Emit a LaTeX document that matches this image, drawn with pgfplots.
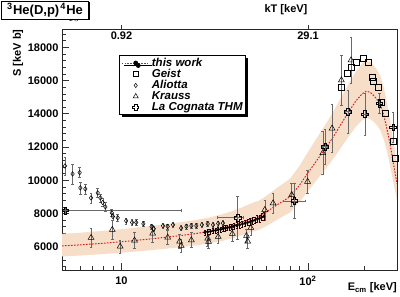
\documentclass[border=0pt]{standalone}
\usepackage{fontspec}
\setmainfont{Liberation Sans}
\usepackage{pgfplots}
\pgfplotsset{compat=1.18}
\usetikzlibrary{shadows}
\definecolor{bandc}{RGB}{247,222,200}
\definecolor{fitred}{RGB}{215,30,35}
\definecolor{ebar}{RGB}{105,105,105}
\pgfdeclareplotmark{ocross}{%
  \pgfpathmoveto{\pgfpoint{-0.38\pgfplotmarksize}{\pgfplotmarksize}}%
  \pgfpathlineto{\pgfpoint{0.38\pgfplotmarksize}{\pgfplotmarksize}}%
  \pgfpathlineto{\pgfpoint{0.38\pgfplotmarksize}{0.38\pgfplotmarksize}}%
  \pgfpathlineto{\pgfpoint{\pgfplotmarksize}{0.38\pgfplotmarksize}}%
  \pgfpathlineto{\pgfpoint{\pgfplotmarksize}{-0.38\pgfplotmarksize}}%
  \pgfpathlineto{\pgfpoint{0.38\pgfplotmarksize}{-0.38\pgfplotmarksize}}%
  \pgfpathlineto{\pgfpoint{0.38\pgfplotmarksize}{-\pgfplotmarksize}}%
  \pgfpathlineto{\pgfpoint{-0.38\pgfplotmarksize}{-\pgfplotmarksize}}%
  \pgfpathlineto{\pgfpoint{-0.38\pgfplotmarksize}{-0.38\pgfplotmarksize}}%
  \pgfpathlineto{\pgfpoint{-\pgfplotmarksize}{-0.38\pgfplotmarksize}}%
  \pgfpathlineto{\pgfpoint{-\pgfplotmarksize}{0.38\pgfplotmarksize}}%
  \pgfpathlineto{\pgfpoint{-0.38\pgfplotmarksize}{0.38\pgfplotmarksize}}%
  \pgfpathclose
  \pgfusepathqstroke}

\pgfplotstableread[row sep=\\]{
E S \\
4.8 6776 \\ 6 6843 \\ 8 6955 \\ 10 7056 \\ 13 7190 \\ 16 7314 \\ 20 7448 \\
25 7605 \\ 30 7773 \\ 35 7963 \\ 40 8176 \\ 45 8400 \\ 50 8624 \\ 55 8792 \\
60 9072 \\ 70 9632 \\ 80 10080 \\ 90 10864 \\ 100 11704 \\ 110 12432 \\
120 13104 \\ 130 13720 \\ 140 14336 \\ 150 14952 \\ 165 15792 \\ 180 16520 \\
195 17024 \\ 205 17192 \\ 215 17136 \\ 225 16912 \\ 235 16632 \\ 245 16240 \\
255 15568 \\ 265 14672 \\ 275 13664 \\ 285 12544 \\ 300 10976 \\
300 8771 \\ 285 10024 \\ 275 10919 \\ 265 11725 \\ 255 12441 \\ 245 12978 \\
235 13291 \\ 225 13515 \\ 215 13694 \\ 205 13738 \\ 195 13604 \\ 180 13201 \\
165 12620 \\ 150 11948 \\ 140 11456 \\ 130 10964 \\ 120 10472 \\ 110 9935 \\
100 9353 \\ 90 8682 \\ 80 8055 \\ 70 7697 \\ 60 7250 \\ 55 7026 \\ 50 6892 \\
45 6713 \\ 40 6534 \\ 35 6363 \\ 30 6211 \\ 25 6077 \\ 20 5952 \\ 16 5844 \\
13 5746 \\ 10 5639 \\ 8 5558 \\ 6 5468 \\ 4.8 5415 \\
}\band

\pgfplotstableread[row sep=\\]{
E S \\
4.8 6050 \\ 6 6110 \\ 8 6210 \\ 10 6300 \\ 13 6420 \\ 16 6530 \\ 20 6650 \\
25 6790 \\ 30 6940 \\ 35 7110 \\ 40 7300 \\ 45 7500 \\ 50 7700 \\ 55 7850 \\
60 8100 \\ 70 8600 \\ 80 9000 \\ 90 9700 \\ 100 10450 \\ 110 11100 \\
120 11700 \\ 130 12250 \\ 140 12800 \\ 150 13350 \\ 165 14100 \\ 180 14750 \\
195 15200 \\ 205 15350 \\ 215 15300 \\ 225 15100 \\ 235 14850 \\ 245 14500 \\
255 13900 \\ 265 13100 \\ 275 12200 \\ 285 11200 \\ 300 9800 \\
}\fit

\pgfplotstableread[row sep=\\]{
E S e \\
28.0 6860 150 \\ 29.0 6900 150 \\ 30.0 6920 150 \\ 31.0 6970 150 \\
32.0 6980 150 \\ 33.0 7030 150 \\ 34.0 7040 160 \\ 35.0 7090 160 \\
36.0 7110 160 \\ 37.0 7150 160 \\ 38.0 7160 170 \\ 39.0 7210 170 \\
40.0 7230 170 \\ 41.5 7280 170 \\ 43.0 7310 180 \\ 44.5 7370 180 \\
46.0 7400 180 \\ 47.5 7470 190 \\ 49.0 7500 190 \\ 50.5 7570 200 \\
52.0 7600 200 \\ 53.5 7670 200 \\ 55.0 7710 210 \\ 56.5 7790 210 \\
58.0 7830 220 \\
}\thiswork

\pgfplotstableread[row sep=\\]{
E S \\
151 15620 \\ 162 16420 \\ 171 16820 \\ 181 17120 \\ 197 17320 \\ 211 17120 \\
221 16200 \\ 224 15950 \\ 238 15620 \\ 248 14720 \\ 259 14020 \\ 285 12320 \\
293 11320 \\
}\geist

\pgfplotstableread[row sep=\\]{
E S e \\
4.98 10860 550 \\ 5.47 10380 600 \\ 5.97 10460 300 \\ 6.02 9540 350 \\
6.40 9480 300 \\ 6.87 8940 300 \\ 7.46 9240 280 \\ 7.71 8940 250 \\
7.94 8660 250 \\ 8.20 8400 250 \\ 8.87 8040 220 \\ 9.00 7820 200 \\
9.55 7740 200 \\ 10.6 7560 180 \\ 11.4 7460 180 \\ 12.0 7460 180 \\
13.1 7380 160 \\ 14.5 7200 160 \\ 14.9 7080 160 \\ 16.7 7260 150 \\
17.7 7220 150 \\ 18.9 7320 150 \\ 20.9 7120 150 \\ 22.3 7220 150 \\
23.7 7260 150 \\ 25.2 7260 150 \\ 27.0 7320 150 \\ 29.0 7380 150 \\
31.0 7320 150 \\ 33.0 7400 150 \\ 35.0 7420 150 \\
}\aliotta

\pgfplotstableread[row sep=\\]{
E S e \\
6.87 6540 550 \\ 8.93 7020 550 \\ 9.84 6020 400 \\ 11.75 6380 480 \\
14.7 6800 500 \\ 17.7 6560 420 \\ 20.5 6320 420 \\ 20.9 6060 400 \\
23.7 6400 450 \\ 29.0 6500 450 \\ 29.3 6300 400 \\ 33.0 6600 400 \\
39.3 6780 450 \\ 46.8 6660 400 \\ 47.5 6320 400 \\ 49.4 7140 450 \\
58.7 8220 600 \\ 65.0 8620 600 \\ 81.8 9120 700 \\ 99.5 9920 700 \\
120 11640 1300 \\ 134.6 13120 1450 \\ 151 16020 1500 \\ 170 17220 1400 \\
}\krauss

\pgfplotstableread[row sep=\\]{
E S xm xp ey \\
5.0 8180 1.0 15.9 150 \\
42 7750 9.5 3 1300 \\
84.4 8760 10.9 11.9 1050 \\
123.5 12020 4 4 1050 \\
164 14120 5 5 1300 \\
202 13980 5 5 1250 \\
241 14620 4 4 600 \\
286 13180 4 4 900 \\
}\lacognata

\begin{document}
\begin{tikzpicture}
\path[use as bounding box] (0,0) rectangle (400pt,297pt);
\begin{axis}[
  at={(62pt,27pt)}, anchor=south west,
  scale only axis, width=335pt, height=241pt,
  xmode=log, xmin=4.8, xmax=300, ymin=4600, ymax=19100,
  xtick={10,100}, xticklabels={10,10\textsuperscript{2}},
  minor xtick={5,6,7,8,9,20,30,40,50,60,70,80,90,200,300},
  ytick={6000,8000,10000,12000,14000,16000,18000},
  yticklabels={6000,8000,10000,12000,14000,16000,18000},
  minor ytick={4800,5200,...,19000},
  xtick pos=bottom, ytick pos=left,
  tick align=inside,
  major tick length=7pt, minor tick length=4pt,
  ticklabel style={font=\bfseries\fontsize{11}{12}\selectfont},
  xticklabel style={yshift=-3pt},
  axis line style={line width=0.9pt, black!85},
  every tick/.style={black!80, line width=0.6pt},
  legend style={at={(0.170,0.892)}, anchor=north west, draw=black, line width=0.7pt,
    fill=white, font=\bfseries\itshape\fontsize{11.5}{11.5}\selectfont,
    nodes={inner sep=0.7pt}, inner xsep=2pt, inner ysep=2pt, row sep=0pt,
    column sep=1pt,
    drop shadow={shadow xshift=2.5pt, shadow yshift=-2.5pt, fill=black, opacity=1}},
  legend cell align=left,
]
\addplot[fill=bandc, draw=none, forget plot] table[x=E,y=S] {\band};
\addplot[fitred, line width=1pt, dash pattern=on 1.6pt off 1.4pt, forget plot] table[x=E,y=S] {\fit};

\addplot[only marks, black, mark=diamond, mark size=2.3pt, mark options={line width=0.5pt, solid},
  forget plot,
  error bars/.cd, y dir=both, y explicit,
  error bar style={ebar, line width=0.5pt},
  error mark options={rotate=90, ebar, mark size=1.3pt}]
  table[x=E, y=S, y error=e] {\aliotta};

\addplot[only marks, black, mark=triangle, mark size=3.4pt, mark options={line width=0.5pt, solid},
  forget plot,
  error bars/.cd, y dir=both, y explicit,
  error bar style={ebar, line width=0.5pt},
  error mark options={rotate=90, ebar, mark size=1.3pt}]
  table[x=E, y=S, y error=e] {\krauss};

\addplot[only marks, black, mark=square, mark size=3pt, mark options={line width=0.5pt, solid},
  forget plot] table[x=E, y=S] {\geist};

\addplot[only marks, black, mark=ocross, mark size=3.4pt, mark options={line width=0.6pt, solid},
  forget plot,
  error bars/.cd, y dir=both, y explicit, x dir=both, x explicit,
  error bar style={ebar, line width=0.6pt},
  error mark options={rotate=90, ebar, mark size=1.3pt}]
  table[x=E, y=S, x error minus=xm, x error plus=xp, y error=ey] {\lacognata};

\addplot[only marks, black, mark=*, mark size=1.3pt, forget plot,
  error bars/.cd, y dir=both, y explicit,
  error bar style={black!80!red, line width=0.5pt},
  error mark options={rotate=90, black!80!red, mark size=1pt}]
  table[x=E, y=S, y error=e] {\thiswork};

\addlegendimage{legend image code/.code={%
  \draw[fitred, line width=0.9pt, dash pattern=on 1.5pt off 1.3pt] (0pt,0pt) -- (28pt,0pt);
  \fill[black] (14pt,0pt) circle (2pt);}}
\addlegendentry{this work}
\addlegendimage{legend image code/.code={%
  \draw[black, line width=0.5pt] plot[only marks, mark=square, mark size=2.5pt] coordinates {(14pt,0pt)};}}
\addlegendentry{Geist}
\addlegendimage{legend image code/.code={%
  \draw[black, line width=0.5pt] plot[only marks, mark=diamond, mark size=2.2pt] coordinates {(14pt,0pt)};}}
\addlegendentry{Aliotta}
\addlegendimage{legend image code/.code={%
  \draw[black, line width=0.5pt] plot[only marks, mark=triangle, mark size=3pt] coordinates {(14pt,0pt)};}}
\addlegendentry{Krauss}
\addlegendimage{legend image code/.code={%
  \draw[black, line width=0.6pt] plot[only marks, mark=ocross, mark size=3pt] coordinates {(14pt,0pt)};}}
\addlegendentry{La Cognata THM}

\coordinate (k1) at (axis cs:10,19100);
\coordinate (k2) at (axis cs:100,19100);
\end{axis}
\draw[black!80, line width=0.6pt] (k1) -- ++(0,4pt);
\draw[black!80, line width=0.6pt] (k2) -- ++(0,4pt);
\node[below=2.5pt, font=\bfseries\fontsize{11}{12}\selectfont, inner sep=0pt] at (k1) {0.92};
\node[below=2.5pt, font=\bfseries\fontsize{11}{12}\selectfont, inner sep=0pt] at (k2) {29.1};
\node[font=\bfseries\fontsize{11}{12}\selectfont] at (286pt,287pt) {kT [keV]};
\node[anchor=east, font=\bfseries\fontsize{11}{12}\selectfont, inner sep=0pt] at (397pt,9pt) {E\textsubscript{cm} [keV]};
\node[rotate=90, font=\bfseries\fontsize{11}{12}\selectfont] at (18pt,244pt) {S [keV b]};
\node[draw, line width=0.7pt, fill=white, minimum width=87pt, minimum height=18pt, inner sep=0pt,
  drop shadow={shadow xshift=1.5pt, shadow yshift=-1.5pt, fill=black, opacity=1},
  font=\bfseries\fontsize{13}{14}\selectfont] at (45pt,287pt)
  {\textsuperscript{3}\kern0.5pt He(D,p)\kern1pt\textsuperscript{4}\kern0.5pt He};
\end{tikzpicture}
\end{document}
